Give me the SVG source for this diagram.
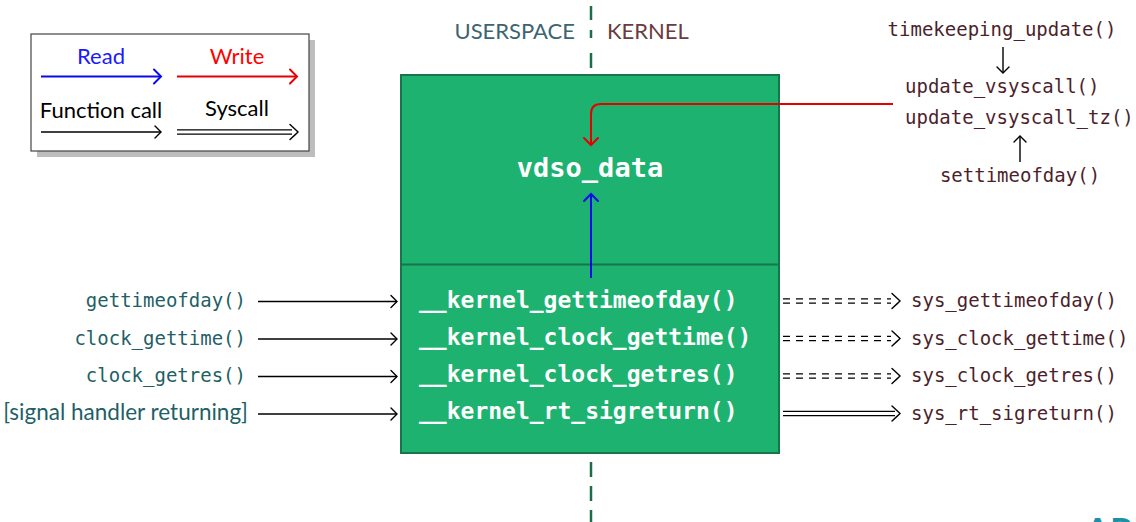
<svg xmlns="http://www.w3.org/2000/svg" width="1136" height="522" viewBox="0 0 1136 522">
<defs>
<style>
.mono{font-family:"DejaVu Sans Mono","Liberation Mono",monospace}
.sans{font-family:Lato,"Open Sans",sans-serif}
.ktext{font-family:"DejaVu Sans Mono",monospace;font-weight:bold;font-size:23px;fill:#ffffff}
.utext{fill:#1f5f66;font-size:19px}
.stext{fill:#4d1f2c;font-size:19px}
.call{stroke:#000;stroke-width:1.4;fill:none}
.dblo{stroke:#000;stroke-width:5.6;fill:none}
.dbli{stroke:#fff;stroke-width:3;fill:none}
.dash{stroke-dasharray:7 6}
.chev{fill:none;stroke:#000;stroke-width:1.4;stroke-linecap:round}
.sep{stroke:#1b6e48;stroke-width:2.5}
</style>
<marker id="ak" markerUnits="userSpaceOnUse" viewBox="-8 -8 10 16" refX="0" refY="0" markerWidth="10" markerHeight="16" orient="auto" overflow="visible">
<path d="M -6 -6 Q -1.5 -1.5 0 0 Q -1.5 1.5 -6 6" fill="none" stroke="#000" stroke-width="1.4" stroke-linecap="round"/>
</marker>
<marker id="ab" markerUnits="userSpaceOnUse" viewBox="-8 -8 10 16" refX="0" refY="0" markerWidth="10" markerHeight="16" orient="auto" overflow="visible">
<path d="M -7 -7 Q -1.5 -1.5 0 0 Q -1.5 1.5 -7 7" fill="none" stroke="#0a0af0" stroke-width="2" stroke-linecap="round"/>
</marker>
<marker id="ar" markerUnits="userSpaceOnUse" viewBox="-8 -8 10 16" refX="0" refY="0" markerWidth="10" markerHeight="16" orient="auto" overflow="visible">
<path d="M -7 -7 Q -1.5 -1.5 0 0 Q -1.5 1.5 -7 7" fill="none" stroke="#e60000" stroke-width="2" stroke-linecap="round"/>
</marker>
</defs>
<rect width="1136" height="522" fill="#ffffff"/>

<!-- legend -->
<g id="legend">
<rect x="37" y="40" width="278" height="117" fill="#bdbdbd"/>
<rect x="31" y="34" width="278" height="117" fill="#ffffff" stroke="#444" stroke-width="1.2"/>
<text x="101" y="64" class="sans" font-size="22" fill="#1a1aff" text-anchor="middle">Read</text>
<line x1="41" y1="76.5" x2="161" y2="76.5" stroke="#0a0af0" stroke-width="2" marker-end="url(#ab)"/>
<text x="237" y="64" class="sans" font-size="22" fill="#ff0000" text-anchor="middle">Write</text>
<line x1="177" y1="76.5" x2="297" y2="76.5" stroke="#e60000" stroke-width="2" marker-end="url(#ar)"/>
<text x="101" y="118" class="sans" font-size="22" fill="#000" text-anchor="middle">Function call</text>
<line x1="41" y1="132" x2="161" y2="132" class="call" marker-end="url(#ak)"/>
<text x="237" y="116" class="sans" font-size="22" fill="#000" text-anchor="middle">Syscall</text>
<line x1="177" y1="132" x2="292" y2="132" class="dblo"/>
<line x1="176" y1="132" x2="293" y2="132" class="dbli"/>
<path d="M 290 124.5 Q 296 130 298 132 Q 296 134 290 139.5" class="chev"/>
</g>

<!-- userspace / kernel separator -->
<g id="separator">
<line x1="591" y1="6" x2="591" y2="20" class="sep"/>
<line x1="591" y1="30" x2="591" y2="38" class="sep"/>
<line x1="591" y1="53" x2="591" y2="68" class="sep"/>
<line x1="591" y1="462" x2="591" y2="477" class="sep"/>
<line x1="591" y1="486" x2="591" y2="501" class="sep"/>
<line x1="591" y1="510" x2="591" y2="522" class="sep"/>
<text x="575" y="39" class="sans" font-size="22" fill="#3d6470" text-anchor="end">USERSPACE</text>
<text x="607" y="39" class="sans" font-size="22" fill="#6a3c40">KERNEL</text>
</g>

<!-- vdso box -->
<g id="vdso">
<rect x="401" y="75" width="378" height="378" fill="#1db270" stroke="#17754b" stroke-width="2"/>
<line x1="401" y1="264.5" x2="779" y2="264.5" stroke="#17754b" stroke-width="2"/>
<text x="590" y="177" class="mono" font-weight="bold" font-size="27" fill="#ffffff" text-anchor="middle">vdso_data</text>
<text x="419" y="308" class="ktext">__kernel_gettimeofday()</text>
<text x="419" y="345" class="ktext">__kernel_clock_gettime()</text>
<text x="419" y="382" class="ktext">__kernel_clock_getres()</text>
<text x="419" y="419" class="ktext">__kernel_rt_sigreturn()</text>
</g>

<!-- userspace callers -->
<g id="callers">
<text x="246" y="307" class="mono utext" text-anchor="end">gettimeofday()</text>
<text x="246" y="344.5" class="mono utext" text-anchor="end">clock_gettime()</text>
<text x="246" y="382" class="mono utext" text-anchor="end">clock_getres()</text>
<text x="248" y="420" class="sans" font-size="22.5" fill="#1f5f66" text-anchor="end">[signal handler returning]</text>
</g>

<!-- kernel syscalls -->
<g id="syscalls">
<text x="911" y="307" class="mono stext">sys_gettimeofday()</text>
<text x="911" y="344.5" class="mono stext">sys_clock_gettime()</text>
<text x="911" y="382" class="mono stext">sys_clock_getres()</text>
<text x="911" y="419.5" class="mono stext">sys_rt_sigreturn()</text>
</g>

<!-- update functions -->
<g id="updaters">
<text x="1002" y="36" class="mono stext" text-anchor="middle">timekeeping_update()</text>
<text x="905" y="93" class="mono stext">update_vsyscall()</text>
<text x="905" y="124" class="mono stext">update_vsyscall_tz()</text>
<text x="1020" y="182" class="mono stext" text-anchor="middle">settimeofday()</text>
</g>

<!-- connectors -->
<g id="connectors">
<line x1="258" y1="301.5" x2="397" y2="301.5" class="call" marker-end="url(#ak)"/>
<line x1="258" y1="339" x2="397" y2="339" class="call" marker-end="url(#ak)"/>
<line x1="258" y1="376.5" x2="397" y2="376.5" class="call" marker-end="url(#ak)"/>
<line x1="258" y1="414" x2="397" y2="414" class="call" marker-end="url(#ak)"/>

<line x1="783" y1="301" x2="891" y2="301" class="dblo dash"/>
<line x1="783" y1="301" x2="891" y2="301" class="dbli dash"/>
<path d="M 892 293.5 Q 898 299 900 301 Q 898 303 892 308.5" class="chev"/>
<line x1="783" y1="338.5" x2="891" y2="338.5" class="dblo dash"/>
<line x1="783" y1="338.5" x2="891" y2="338.5" class="dbli dash"/>
<path d="M 892 331 Q 898 336.5 900 338.5 Q 898 340.5 892 346" class="chev"/>
<line x1="783" y1="376" x2="891" y2="376" class="dblo dash"/>
<line x1="783" y1="376" x2="891" y2="376" class="dbli dash"/>
<path d="M 892 368.5 Q 898 374 900 376 Q 898 378 892 383.5" class="chev"/>
<line x1="783" y1="413.5" x2="895" y2="413.5" class="dblo"/>
<line x1="782" y1="413.5" x2="896" y2="413.5" class="dbli"/>
<path d="M 892 406 Q 898 411.5 900 413.5 Q 898 415.5 892 421" class="chev"/>

<line x1="1003" y1="47" x2="1003" y2="73" class="call" marker-end="url(#ak)"/>
<line x1="1020" y1="162" x2="1020" y2="136" class="call" marker-end="url(#ak)"/>

<path d="M 893 104 H 601 Q 591 104 591 114 V 145" fill="none" stroke="#e60000" stroke-width="2" marker-end="url(#ar)"/>
<line x1="591" y1="278" x2="591" y2="194" stroke="#0a0af0" stroke-width="2" marker-end="url(#ab)"/>
</g>

<text x="1085" y="544" class="sans" font-weight="bold" font-size="36" fill="#1d8fa8">ARM</text>
</svg>
